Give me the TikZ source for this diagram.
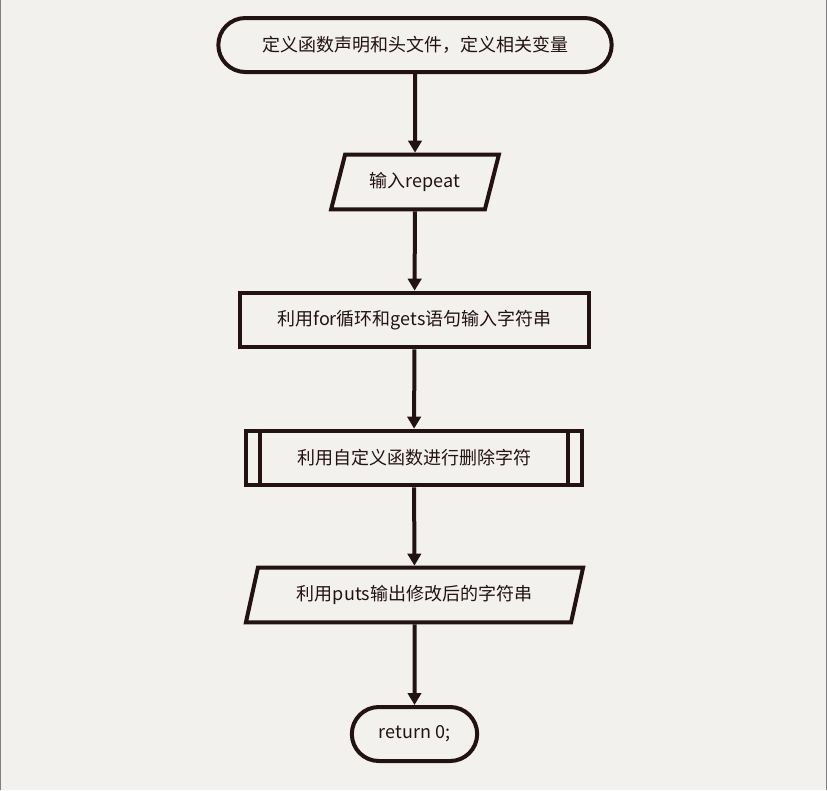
\documentclass[tikz,border=0pt]{standalone}
\usepackage{fontspec}
\newfontfamily\cjk{Noto Sans CJK SC}
\usetikzlibrary{shapes.geometric, shapes.misc, arrows.meta, positioning}
\definecolor{bg}{HTML}{F3F1EE}
\definecolor{ink}{HTML}{231212}
\tikzset{
  base/.style={draw=ink, line width=3pt, inner sep=0pt, font=\cjk\fontsize{13.5pt}{16pt}\selectfont, text=ink},
  terminal/.style={base, rounded rectangle, minimum height=40.5pt},
  io/.style={base, trapezium, trapezium left angle=65, trapezium right angle=115, trapezium stretches=true, minimum height=41pt},
  process/.style={base, rectangle, minimum height=41pt},
  flow/.style={draw=ink, line width=3pt, -{Triangle[length=9pt,width=10pt]}}
}
\begin{document}
\begin{tikzpicture}[x=0.75pt, y=-0.75pt]
  \fill[bg] (0,0) rectangle (827,790);
  \useasboundingbox (0,0) rectangle (827,790);
  \draw[gray, line width=1pt] (0.5,0) -- (0.5,790) (826.5,0) -- (826.5,790);
  \node[terminal, minimum width=295pt] (start) at (415,45) {定义函数声明和头文件，定义相关变量};
  \node[io, minimum width=126pt] (input) at (415,182) {输入repeat};
  \node[process, minimum width=262pt] (read) at (414.5,320) {利用for循环和gets语句输入字符串};
  \node[process, minimum width=252pt] (del) at (414,458) {利用自定义函数进行删除字符};
  \draw[ink, line width=3pt] ([xshift=12pt]del.north west) -- ([xshift=12pt]del.south west)
    ([xshift=-12pt]del.north east) -- ([xshift=-12pt]del.south east);
  \node[io, minimum width=253pt] (output) at (414.5,595) {利用puts输出修改后的字符串};
  \node[terminal, minimum width=94pt] (stop) at (414.5,734) {return 0;};
  \draw[flow] (start) -- (input);
  \draw[flow] (input) -- (read);
  \draw[flow] (read) -- (del);
  \draw[flow] (del) -- (output);
  \draw[flow] (output) -- (stop);
\end{tikzpicture}
\end{document}
